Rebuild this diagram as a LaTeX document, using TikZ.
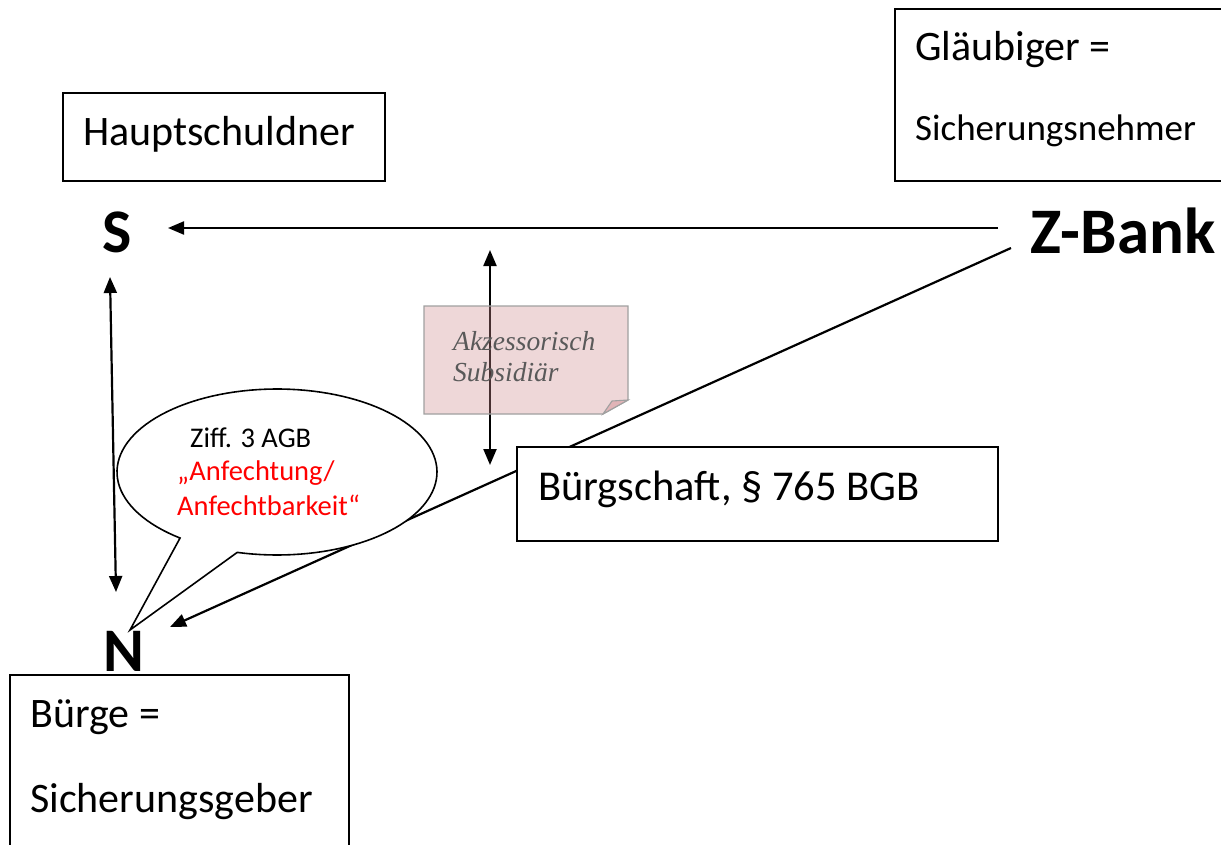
\documentclass[tikz,border=0pt]{standalone}
\usepackage{fontspec}
\setmainfont{Carlito}
\newfontfamily\notefont{Liberation Serif}
\usetikzlibrary{arrows.meta}
\definecolor{notefill}{RGB}{205,140,143}
\definecolor{notefold}{RGB}{225,180,183}
\definecolor{noteborder}{RGB}{160,160,160}
\definecolor{notetext}{RGB}{89,89,89}
\begin{document}
\begin{tikzpicture}[x=1pt,y=-1pt,
  box/.style={draw=black, line width=1.8pt, fill=white, inner sep=0pt, anchor=north west},
  lbl/.style={anchor=base west, inner sep=0pt, font=\fontsize{42}{50}\selectfont},
  big/.style={inner sep=0pt, font=\fontsize{62}{64}\selectfont\bfseries},
  conn/.style={line width=2.2pt, -{Triangle[length=16pt,width=13pt]}},
  dconn/.style={line width=2.2pt, {Triangle[length=16pt,width=13pt]}-{Triangle[length=16pt,width=13pt]}},
  calltext/.style={anchor=base west, inner sep=0pt, font=\fontsize{28.5}{32}\selectfont},
  notelbl/.style={anchor=base west, inner sep=0pt, text=notetext, font=\notefont\itshape\fontsize{27.5}{30}\selectfont},
]
\useasboundingbox (0,0) rectangle (1221,844);

% party labels
\node[big] (S) at (117,232) {S};
\node[big, font=\fontsize{65}{66}\selectfont\bfseries] (Z) at (1123,231) {Z-Bank};
\node[big] (N) at (124,651) {N};

% connector end points
\coordinate (zs1) at (998,228);
\coordinate (se1) at (168,228);
\coordinate (zs2) at (1011,248);
\coordinate (ne2) at (170,627);
\coordinate (sn1) at (110,277);
\coordinate (sn2) at (116,592);
\coordinate (m1) at (490,250);
\coordinate (m2) at (490,465);

\draw[conn] (zs1) -- (se1);
\draw[conn] (zs2) -- (ne2);
\draw[dconn] (sn1) -- (sn2);
\draw[dconn] (m1) -- (m2);

% sticky note
\fill[notefill, fill opacity=0.35] (424,306) -- (628,306) -- (628,400) -- (603,414) -- (424,414) -- cycle;
\draw[noteborder, line width=1.3pt] (424,306) -- (628,306) -- (628,400) -- (603,414) -- (424,414) -- cycle;
\draw[noteborder, line width=1.1pt, fill=notefold] (603,414) -- (612,401) -- (628,400) -- cycle;
\node[notelbl] (note1) at (453,350) {Akzessorisch};
\node[notelbl] (note2) at (453,381) {Subsidiär};

% boxes
\node[box, minimum width=322pt, minimum height=88pt] (hsbox) at (62,92) {};
\node[lbl] (hstext) at (83,145) {Hauptschuldner};

\node[box, minimum width=340pt, minimum height=172pt] (glbox) at (894,8) {};
\node[lbl] (gltext1) at (915,60) {Gläubiger =};
\node[lbl, font=\fontsize{37}{44}\selectfont] (gltext2) at (915,140) {Sicherungsnehmer};

\node[box, minimum width=339pt, minimum height=200pt] (bgbox) at (9,674) {};
\node[lbl] (bgtext1) at (30,727) {Bürge =};
\node[lbl] (bgtext2) at (30,812) {Sicherungsgeber};

\node[box, minimum width=481pt, minimum height=94pt] (bsbox) at (516,446) {};
\node[lbl, font=\fontsize{42.5}{50}\selectfont] (bstext) at (538,500) {Bürgschaft, § 765 BGB};

% callout
\draw[line width=1.6pt, fill=white] plot[domain=127.3:464.4, samples=120] ({277+160*cos(\x)},{472+83*sin(\x)}) -- (130,630) -- cycle;
\node[calltext] (c1) at (190,447) {Ziff. 3 AGB};
\node[calltext, text=red] (c2) at (177,480) {„Anfechtung/};
\node[calltext, text=red] (c3) at (177,515) {Anfechtbarkeit“};
\end{tikzpicture}
\end{document}
